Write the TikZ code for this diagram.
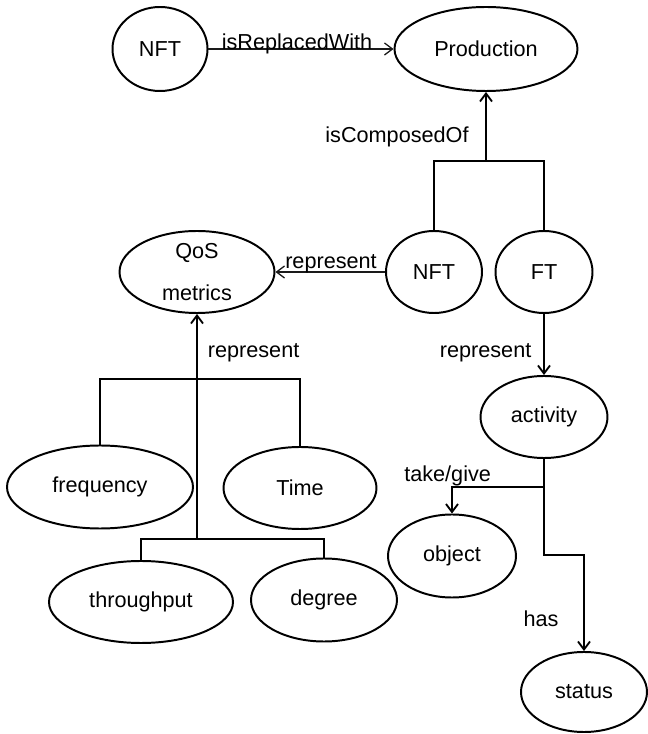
\documentclass[tikz,border=0pt]{standalone}
\usepackage{fontspec}
\setmainfont{Liberation Sans}
\usepackage{tikz}
\usetikzlibrary{arrows.meta,positioning,shapes.geometric,calc}
\definecolor{txt}{HTML}{000000}
\definecolor{edge}{HTML}{1A1A1A}

\begin{document}
\begin{tikzpicture}[
  >={Straight Barb[length=0.2cm,width=0.3cm]},
  concept/.style={ellipse, draw=txt, line width=1.4pt, inner sep=0pt, minimum height=2.05cm, font=\fontsize{15.4}{18}\selectfont, text=txt},
  rel/.style={font=\fontsize{15.4}{18}\selectfont, inner sep=0pt, anchor=base, text=txt},
  line/.style={line width=1.3pt, color=txt},
  arr/.style={->, line width=1.3pt, color=txt},
  thinarr/.style={->, line width=0.9pt, color=edge},
]
\useasboundingbox (0,0) rectangle (16.2,18.35);

\node[concept, minimum width=2.375cm, minimum height=2.1cm] (nfttop) at (4.0, 17.125) {NFT};
\node[concept, minimum width=4.575cm, minimum height=2.1cm] (prod) at (12.15, 17.125) {Production};
\node[concept, minimum width=2.4cm] (nft) at (10.85, 11.55) {NFT};
\node[concept, minimum width=2.425cm] (ft) at (13.6, 11.55) {FT};
\node[concept, minimum width=3.875cm, align=center, font=\fontsize{15.4}{29.9}\selectfont] (qos) at (4.925, 11.55) {QoS\\metrics};
\node[concept, minimum width=3.175cm] (activity) at (13.6, 7.925) {activity};
\node[concept, minimum width=4.65cm, minimum height=2.075cm] (freq) at (2.5, 6.175) {frequency};
\node[concept, minimum width=3.825cm] (time) at (7.5, 6.15) {Time};
\node[concept, minimum width=3.2cm, minimum height=2.075cm] (object) at (11.3, 4.45) {object};
\node[concept, minimum width=4.6cm] (thru) at (3.525, 3.3) {throughput};
\node[concept, minimum width=3.65cm, minimum height=2.075cm] (degree) at (8.1, 3.35) {degree};
\node[concept, minimum width=3.15cm, minimum height=2.0cm] (status) at (14.6, 1.05) {status};

\coordinate (pjoin) at (12.15, 14.325);
\coordinate (qjoin) at (4.925, 8.875);
\coordinate (qlow) at (4.925, 4.875);
\coordinate (tg) at (13.6, 6.175);
\coordinate (bend) at (13.6, 4.475);

\draw[thinarr] (nfttop.east) -- (prod.west);
\draw[line] (nft.north) |- (pjoin) -| (ft.north);
\draw[arr] (pjoin) -- (prod.south);
\draw[thinarr] (nft.west) -- (qos.east);
\draw[line] (freq.north) |- (qjoin) -| (time.north);
\draw[line] (thru.north) |- (qlow) -| (degree.north);
\draw[arr] (qlow) -- (qos.south);
\draw[arr] (ft.south) -- (activity.north);
\draw[arr] (activity.south) -- (bend) -| (status.north);
\draw[arr] (tg) -| (object.north);

\node[rel] (lrep) at (7.425, 17.1) {isReplacedWith};
\node[rel] (lcomp) at (9.925, 14.775) {isComposedOf};
\node[rel] (lrepq) at (8.275, 11.64) {represent};
\node[rel] (lrepm) at (6.34, 9.4) {represent};
\node[rel] (lrepa) at (12.14, 9.4) {represent};
\node[rel] (ltake) at (11.19, 6.3) {take/give};
\node[rel] (lhas) at (13.525, 2.675) {has};

\end{tikzpicture}
\end{document}
